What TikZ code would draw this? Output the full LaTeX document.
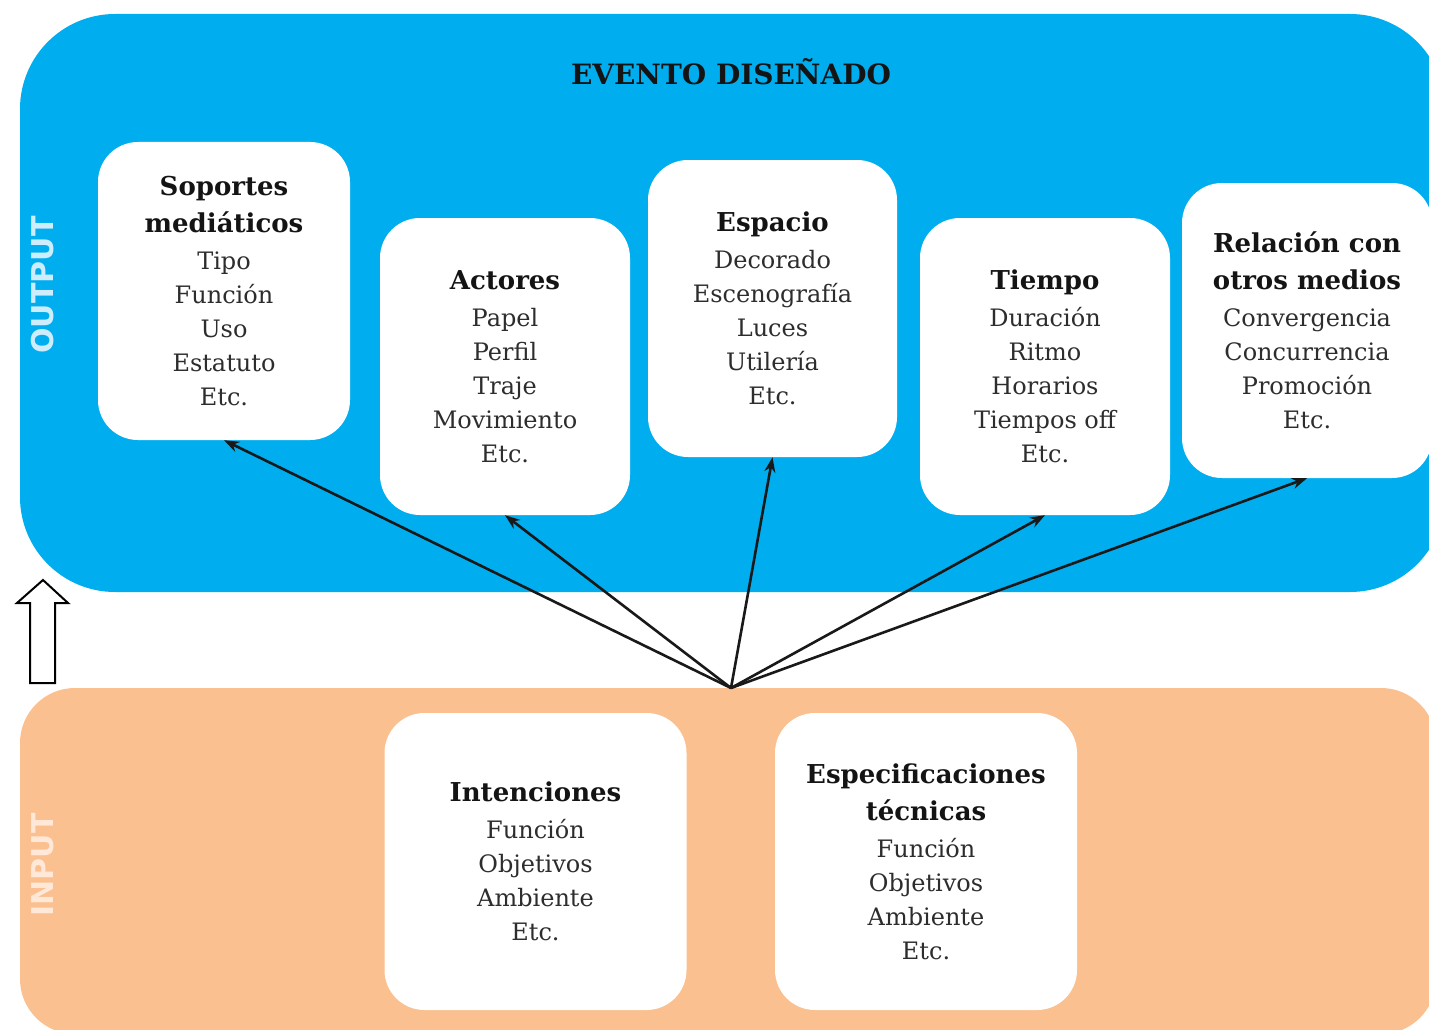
\documentclass[tikz,border=0pt]{standalone}
\usepackage{fontspec}
\setmainfont{DejaVu Serif}
\setsansfont{DejaVu Sans}
\usetikzlibrary{arrows.meta}
\definecolor{bluebg}{RGB}{0,174,239}
\definecolor{orangebg}{RGB}{250,192,143}
\definecolor{itemtxt}{RGB}{45,45,45}
\definecolor{headtxt}{RGB}{20,20,20}
\definecolor{outtxt}{RGB}{205,236,252}
\definecolor{intxt}{RGB}{255,232,215}
\newcommand{\hd}[1]{{\bfseries\fontsize{26}{37}\selectfont\color{headtxt}#1}}
\begin{document}
\begin{tikzpicture}[x=1pt,y=-1pt,
  card/.style={fill=white, rounded corners=40pt, inner sep=0pt, align=center,
    text=itemtxt, font=\fontsize{24}{34}\selectfont},
  conn/.style={line width=2.6pt, draw=black!90, -{Stealth[length=15pt,width=11pt]}},
  sidelbl/.style={rotate=90, font=\sffamily\bfseries\fontsize{30}{30}\selectfont}
]
\useasboundingbox (0,0) rectangle (1429,1030);
\clip (0,0) rectangle (1429,1030);
% panels
\fill[bluebg, rounded corners=95pt] (20,14) rectangle (1445,592);
\fill[orangebg, rounded corners=55pt] (20,688) rectangle (1436,1034);
% hollow arrow
\draw[line width=2pt, fill=white, line join=miter] (30,683) -- (30,603) -- (17,603) -- (43,580) -- (68,603) -- (55,603) -- (55,683) -- cycle;
% side labels
\node[sidelbl, text=outtxt] (outlbl) at (43,285) {OUTPUT};
\node[sidelbl, text=intxt] (inlbl) at (43,865) {INPUT};
% title
\node[font=\bfseries\fontsize{28}{28}\selectfont, text=headtxt] (title) at (731,72) {EVENTO DISEÑADO};
% cards
\node[card, minimum width=252pt, minimum height=298pt] (sop) at (224,291)
  {\hd{Soportes}\\[3pt]\hd{mediáticos}\\[3pt]Tipo\\Función\\Uso\\Estatuto\\Etc.};
\node[card, minimum width=250pt, minimum height=297pt] (act) at (505,366.5)
  {\hd{Actores}\\[3pt]Papel\\Perfil\\Traje\\Movimiento\\Etc.};
\node[card, minimum width=249pt, minimum height=297pt] (esp) at (772.5,308.5)
  {\hd{Espacio}\\[3pt]Decorado\\Escenografía\\Luces\\Utilería\\Etc.};
\node[card, minimum width=250pt, minimum height=297pt] (tie) at (1045,366.5)
  {\hd{Tiempo}\\[3pt]Duración\\Ritmo\\Horarios\\Tiempos off\\Etc.};
\node[card, minimum width=250pt, minimum height=295pt] (rel) at (1307,330.5)
  {\hd{Relación con}\\[3pt]\hd{otros medios}\\[3pt]Convergencia\\Concurrencia\\Promoción\\Etc.};
\node[card, minimum width=302pt, minimum height=297pt] (int) at (535.5,861.5)
  {\hd{Intenciones}\\[3pt]Función\\Objetivos\\Ambiente\\Etc.};
\node[card, minimum width=302pt, minimum height=297pt] (tec) at (926,861.5)
  {\hd{Especificaciones}\\[3pt]\hd{técnicas}\\[3pt]Función\\Objetivos\\Ambiente\\Etc.};
% connectors
\coordinate (src) at (731,688);
\draw[conn] (src) -- (sop.south);
\draw[conn] (src) -- (act.south);
\draw[conn] (src) -- (esp.south);
\draw[conn] (src) -- (tie.south);
\draw[conn] (src) -- (rel.south);
\end{tikzpicture}
\end{document}
